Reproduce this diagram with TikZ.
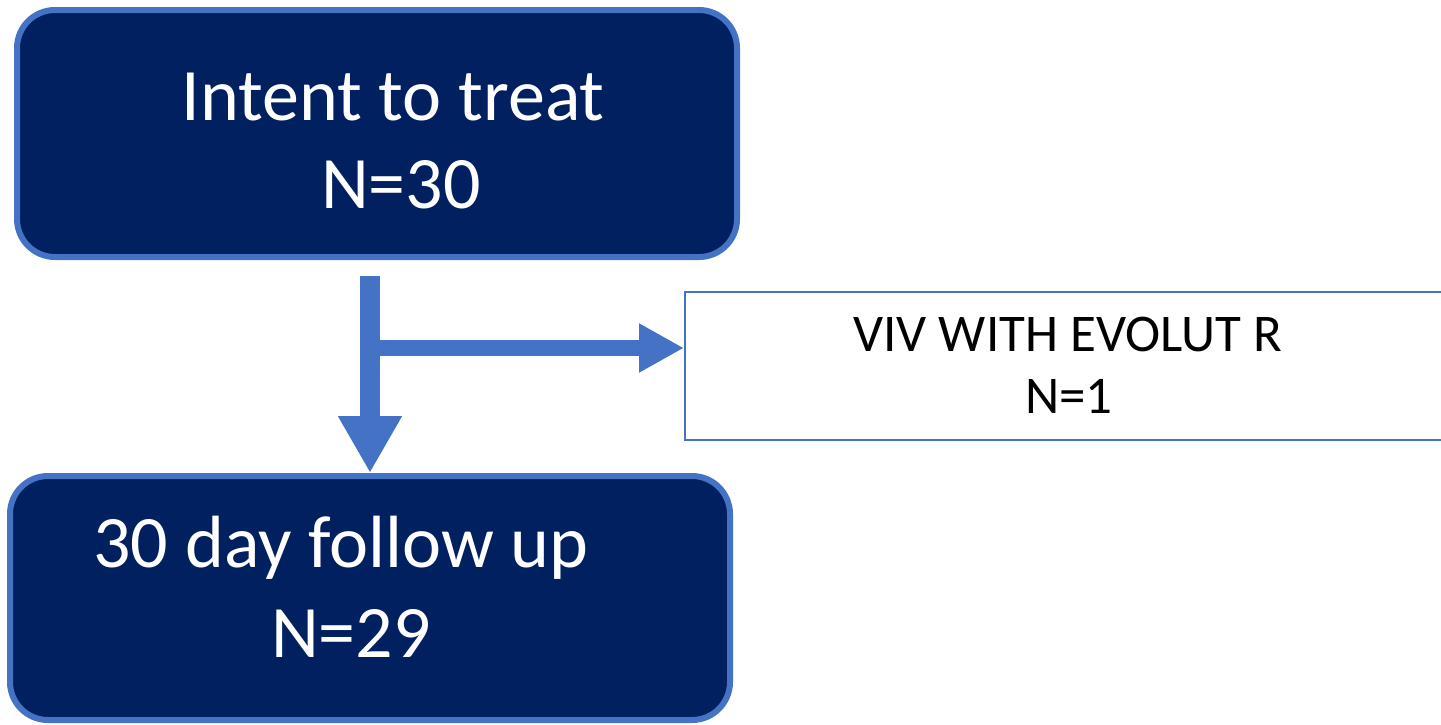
\documentclass[tikz,border=0pt]{standalone}
\usepackage{fontspec}
\setmainfont{Carlito}
\usetikzlibrary{arrows.meta}
\definecolor{navy}{HTML}{002060}
\definecolor{edgeblue}{HTML}{4472C4}
\begin{document}
\begin{tikzpicture}[x=1pt,y=-1pt,
  darkbox/.style={draw=edgeblue,line width=6pt,fill=navy,rounded corners=38pt,
    minimum width=720pt,inner sep=0pt,outer sep=3pt},
  whitebox/.style={draw=edgeblue,line width=2pt,fill=white,
    minimum width=764pt,minimum height=148pt,inner sep=0pt,outer sep=1pt},
  bigtext/.style={text=white,anchor=base,inner sep=0pt,font=\fontsize{74}{90}\selectfont},
  smalltext/.style={text=black,anchor=base,inner sep=0pt,font=\fontsize{53}{64}\selectfont},
  blockarrow/.style={draw=edgeblue,color=edgeblue}
]
\useasboundingbox (0,0) rectangle (1441,724);
\clip (0,0) rectangle (1441,724);
% boxes
\node[darkbox,minimum height=247pt] (itt) at (377,133.5) {};
\node[darkbox,minimum height=244pt] (fu) at (370,598) {};
\node[whitebox] (viv) at (1067,366) {};
% texts
\node[bigtext] (itt1) at (393,120) {Intent to treat};
\node[bigtext] (itt2) at (401,208) {N=30};
\node[bigtext] (fu1) at (341,567) {30 day follow up};
\node[bigtext] (fu2) at (351,657) {N=29};
\node[smalltext] (viv1) at (1068,351) {VIV WITH EVOLUT R};
\node[smalltext] (viv2) at (1069,413) {N=1};
% connectors
\coordinate (a1) at (370,276);
\coordinate (a2) at (370,348);
\draw[blockarrow,line width=20pt,-{Triangle[length=57pt,width=60pt]}] (a1) -- (a1 |- fu.north);
\draw[blockarrow,line width=16pt,-{Triangle[length=45pt,width=46pt]}] (a2) -- (a2 -| viv.west);
\end{tikzpicture}
\end{document}
